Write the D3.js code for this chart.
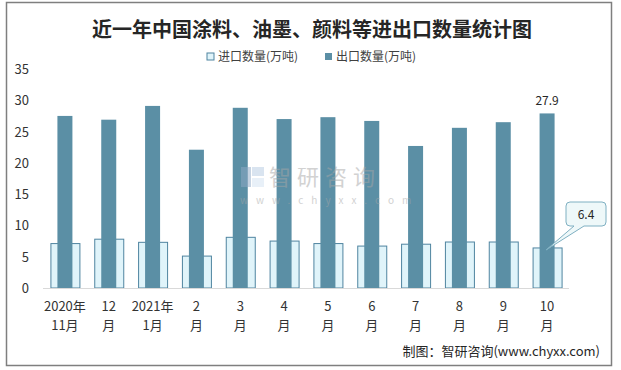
<!DOCTYPE html>
<html>
<head>
<meta charset="utf-8">
<script src="https://cdn.jsdelivr.net/npm/d3@7"></script>
<style>
  body { margin: 0; background: #fff; }
  svg { display: block; font-family: "Noto Sans CJK SC", "Noto Sans", sans-serif; }
</style>
</head>
<body>
<div id="chart"></div>
<script>
const months = ['2020年\n11月', '12\n月', '2021年\n1月', '2\n月', '3\n月', '4\n月', '5\n月', '6\n月', '7\n月', '8\n月', '9\n月', '10\n月']
const imports = [7.1, 7.8, 7.3, 5.1, 8.1, 7.5, 7.1, 6.7, 7.0, 7.35, 7.35, 6.4]
const exports = [27.5, 26.9, 29.1, 22.1, 28.8, 27.0, 27.3, 26.7, 22.7, 25.6, 26.5, 27.9]
const yTicks = [0, 5, 10, 15, 20, 25, 30, 35]
const seriesNames = ['进口数量(万吨)', '出口数量(万吨)']

const width = 621
const height = 370
const margin = { left: 43, right: 52, top: 69, bottom: 82 }

const svg = d3.select('#chart').append('svg')
  .attr('width', width)
  .attr('height', height)

// frame
svg.append('rect')
  .attr('x', 6.5).attr('y', 2.5)
  .attr('width', 605).attr('height', 363)
  .attr('fill', '#fff')
  .attr('stroke', '#7f7f7f')
  .attr('stroke-width', 1.5)

const x = d3.scaleBand()
  .domain(months.map((_, i) => i))
  .range([margin.left, width - margin.right])

const y = d3.scaleLinear()
  .domain([0, 35])
  .range([height - margin.bottom, margin.top])

// title
svg.append('text')
  .attr('x', 312).attr('y', 37)
  .attr('text-anchor', 'middle')
  .attr('font-size', 20)
  .attr('font-weight', 'bold')
  .attr('fill', '#262626')
  .text('近一年中国涂料、油墨、颜料等进出口数量统计图')

// legend
const legend = svg.append('g').attr('font-size', 12).attr('fill', '#404040')
const legendX = [207, 325]
seriesNames.forEach((name, i) => {
  legend.append('rect')
    .attr('x', legendX[i]).attr('y', 53)
    .attr('width', 7).attr('height', 7)
    .attr('fill', i === 0 ? '#e0f4fa' : '#5b8fa5')
    .attr('stroke', i === 0 ? '#4f84a0' : 'none')
  legend.append('text')
    .attr('x', legendX[i] + 11).attr('y', 61)
    .attr('fill', '#404040')
    .text(name)
})

// y axis labels
svg.append('g')
  .selectAll('text')
  .data(yTicks)
  .join('text')
  .attr('x', 29)
  .attr('y', d => y(d) + 5)
  .attr('text-anchor', 'end')
  .attr('font-size', 13)
  .attr('fill', '#333')
  .text(d => d)

// import bars (wide, behind)
const wideW = 29
const narrowW = 15
svg.append('g')
  .selectAll('rect')
  .data(imports)
  .join('rect')
  .attr('x', (d, i) => x(i) + x.bandwidth() / 2 - wideW / 2 + 0.5)
  .attr('y', d => y(d))
  .attr('width', wideW)
  .attr('height', d => y(0) - y(d))
  .attr('fill', '#e0f4fa')
  .attr('stroke', '#4f84a0')
  .attr('stroke-width', 1)

// export bars (narrow, front)
svg.append('g')
  .selectAll('rect')
  .data(exports)
  .join('rect')
  .attr('x', (d, i) => x(i) + x.bandwidth() / 2 - narrowW / 2)
  .attr('y', d => y(d))
  .attr('width', narrowW)
  .attr('height', d => y(0) - y(d))
  .attr('fill', '#5b8fa5')

// baseline
svg.append('line')
  .attr('x1', margin.left).attr('x2', width - margin.right)
  .attr('y1', y(0) + 0.5).attr('y2', y(0) + 0.5)
  .attr('stroke', '#d9d9d9')
  .attr('stroke-width', 1)

// watermark, drawn over the bars
const wm = svg.append('g').attr('opacity', 0.5)
wm.append('rect').attr('x', 241).attr('y', 167).attr('width', 10).attr('height', 20).attr('fill', '#8fa9c6')
wm.append('rect').attr('x', 252).attr('y', 167).attr('width', 12).attr('height', 9).attr('fill', '#b4cbe3')
wm.append('rect').attr('x', 252).attr('y', 178).attr('width', 12).attr('height', 9).attr('fill', '#d2e3f2')
wm.append('text')
  .attr('x', 269).attr('y', 185)
  .attr('font-size', 22)
  .attr('fill', '#a6a6a6')
  .attr('letter-spacing', 6)
  .text('智研咨询')
wm.append('text')
  .attr('x', 240).attr('y', 204)
  .attr('font-size', 10)
  .attr('fill', '#a6a6a6')
  .attr('letter-spacing', 8)
  .text('www.chyxx.com')

// x labels
const xl = svg.append('g')
  .selectAll('text')
  .data(months)
  .join('text')
  .attr('text-anchor', 'middle')
  .attr('font-size', 13)
  .attr('fill', '#333')
xl.each(function(d, i) {
  const lines = d.split('\n')
  lines.forEach((l, j) => {
    d3.select(this).append('tspan')
      .attr('x', x(i) + x.bandwidth() / 2)
      .attr('y', 311 + j * 19)
      .text(l)
  })
})

// data label on last export bar
const last = months.length - 1
svg.append('text')
  .attr('x', x(last) + x.bandwidth() / 2)
  .attr('y', y(exports[last]) - 8)
  .attr('text-anchor', 'middle')
  .attr('font-size', 12)
  .attr('fill', '#262626')
  .text(exports[last])

// callout for last import bar
const px = x(last) + x.bandwidth() / 2 - 1
const py = y(imports[last]) + 2
const bx = 566, by = 202, bw = 40, bh = 24
svg.append('path')
  .attr('d', `M${bx + 4},${by} H${bx + bw - 4} Q${bx + bw},${by} ${bx + bw},${by + 4} V${by + bh - 4} Q${bx + bw},${by + bh} ${bx + bw - 4},${by + bh} H${bx + 18} L${px},${py} L${bx + 8},${by + bh} H${bx + 4} Q${bx},${by + bh} ${bx},${by + bh - 4} V${by + 4} Q${bx},${by} ${bx + 4},${by} Z`)
  .attr('fill', '#eef8f9')
  .attr('stroke', '#7fb0c2')
  .attr('stroke-width', 1)
svg.append('text')
  .attr('x', bx + bw / 2)
  .attr('y', by + 17)
  .attr('text-anchor', 'middle')
  .attr('font-size', 12)
  .attr('fill', '#262626')
  .text(imports[last])

// source
svg.append('text')
  .attr('x', 600).attr('y', 356)
  .attr('text-anchor', 'end')
  .attr('font-size', 13)
  .attr('fill', '#262626')
  .text('制图：智研咨询(www.chyxx.com)')
</script>
</body>
</html>
